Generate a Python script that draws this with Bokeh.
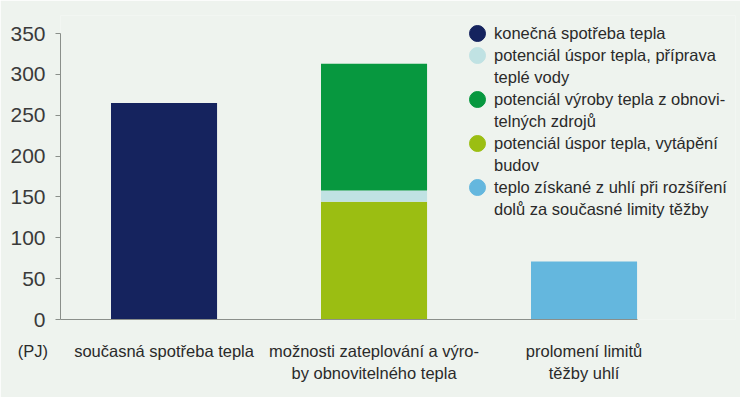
from bokeh.plotting import figure
from bokeh.models import ColumnDataSource, Range1d, FixedTicker, Legend, LegendItem
from bokeh.embed import file_html
from bokeh.resources import INLINE

# ---- data ----
categories = ["současná spotřeba tepla",
              "možnosti zateplování a výro-\nby obnovitelného tepla",
              "prolomení limitů\ntěžby uhlí"]
series_names = ["konečná spotřeba tepla",
                "potenciál úspor tepla, vytápění\nbudov",
                "potenciál úspor tepla, příprava\nteplé vody",
                "potenciál výroby tepla z obnovi-\ntelných zdrojů",
                "teplo získané z uhlí při rozšíření\ndolů za současné limity těžby"]
konecna = [265, 0, 0]
uspory_vytapeni = [0, 144, 0]
uspory_voda = [0, 14, 0]
oze = [0, 155, 0]
uhli = [0, 0, 71]
y_ticks = [0, 50, 100, 150, 200, 250, 300, 350]
unit_label = "(PJ)"
legend_order = [0, 2, 3, 1, 4]

colors = ["#15235e", "#9bbe12", "#c0e2e3", "#07983f", "#64b7de"]
bg = "#eef3ee"
FONT = "Liberation Sans"
BAR_W = 0.505
X0 = -0.493
Y_TOP = 350 + 18 / 0.81714   # extra room above the axis for the legend

keys = ["s0", "s1", "s2", "s3", "s4"]
n = len(categories)
src = ColumnDataSource(dict(x=list(range(n)),
                            s0=konecna, s1=uspory_vytapeni, s2=uspory_voda,
                            s3=oze, s4=uhli))

p = figure(width=740, height=397, output_backend="svg", toolbar_location=None,
           x_range=Range1d(X0, X0 + 675 / 210), y_range=Range1d(0, Y_TOP),
           min_border_left=60, min_border_right=5, min_border_top=15,
           min_border_bottom=78)
p.background_fill_color = bg
p.border_fill_color = bg
p.outline_line_color = None
p.grid.visible = False

p.vbar_stack(keys, x="x", width=BAR_W, color=colors, line_color=None, source=src)

# y axis
p.yaxis.ticker = FixedTicker(ticks=y_ticks)
p.yaxis.bounds = (y_ticks[0], y_ticks[-1])
p.yaxis.minor_tick_line_color = None
p.yaxis.major_tick_out = 5
p.yaxis.major_tick_in = 0
p.yaxis.axis_line_color = "#8a8f8a"
p.yaxis.major_tick_line_color = "#8a8f8a"
p.yaxis.major_label_text_font = FONT
p.yaxis.major_label_text_font_size = "21px"
p.yaxis.major_label_text_color = "#3a3a3a"
p.yaxis.major_label_standoff = 10

# x axis (category labels + unit label at the left end)
xt = [X0] + list(range(n))
p.xaxis.ticker = FixedTicker(ticks=xt)
overrides = {i: c for i, c in enumerate(categories)}
overrides[X0] = unit_label + "\u00a0" * 12
p.xaxis.major_label_overrides = overrides
p.xaxis.bounds = (X0, n - 1 + BAR_W / 2)
p.xaxis.minor_tick_line_color = None
p.xaxis.major_tick_out = 0
p.xaxis.major_tick_in = 0
p.xaxis.axis_line_color = "#8a8f8a"
p.xaxis.major_label_text_font = FONT
p.xaxis.major_label_text_font_size = "16.5px"
p.xaxis.major_label_text_color = "#2a2a2a"
p.xaxis.major_label_standoff = 22
p.xaxis.major_label_text_line_height = 1.25

# legend: round marker beside the first line of each entry; continuation
# lines are separate rows with an invisible marker
nan = float("nan")
blank = p.ellipse(x=[nan], y=[nan], width=10, height=10, width_units="screen",
                  height_units="screen", fill_alpha=0, line_alpha=0)
items = []
for i in legend_order:
    r = p.ellipse(x=[nan], y=[nan], width=10, height=10, width_units="screen",
                  height_units="screen", color=colors[i])
    lines = series_names[i].split("\n")
    items.append(LegendItem(label=lines[0], renderers=[r]))
    for extra in lines[1:]:
        items.append(LegendItem(label=extra, renderers=[blank]))
legend = Legend(items=items, location=(407, 100), spacing=2, padding=0, margin=0,
                glyph_width=20, glyph_height=20, label_standoff=7,
                label_text_font=FONT, label_text_font_size="16.5px",
                label_text_color="#2a2a2a", label_text_line_height=1.25,
                border_line_color=None, background_fill_alpha=0)
p.add_layout(legend)

open("out.html", "w").write(file_html(p, INLINE))
